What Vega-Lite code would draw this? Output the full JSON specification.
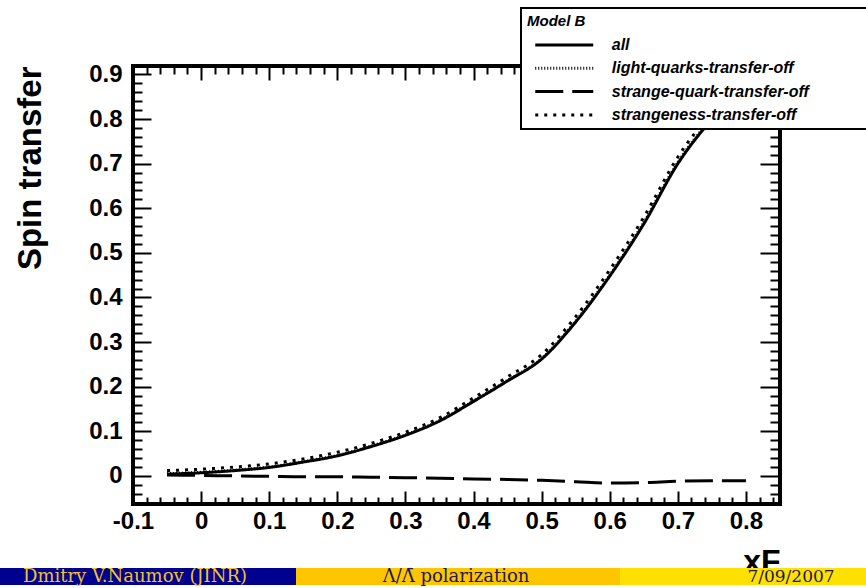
{
  "$schema": "https://vega.github.io/schema/vega-lite/v6.json",
  "padding": {"left": 0, "top": 7, "right": 0, "bottom": 0},
  "columns": 1,
  "align": "none",
  "spacing": -12,
  "config": {
    "view": {"stroke": "black", "strokeWidth": 4},
    "font": "Liberation Sans",
    "legend": {"strokeWidth": 2}
  },
  "concat": [
    {
      "spacing": 0,
      "hconcat": [
        {
          "width": 12, "height": 438,
          "view": {"stroke": null},
          "data": {"values": [{"label": ""}]},
          "mark": {"type": "text"},
          "encoding": {"text": {"field": "label"}}
        },
        {
          "width": 647,
          "height": 438,
          "data": {"values": [
            {"x": -0.05, "y": 0.004, "curve": "all"},
            {"x": 0.0, "y": 0.007, "curve": "all"},
            {"x": 0.05, "y": 0.012, "curve": "all"},
            {"x": 0.1, "y": 0.019, "curve": "all"},
            {"x": 0.15, "y": 0.031, "curve": "all"},
            {"x": 0.2, "y": 0.045, "curve": "all"},
            {"x": 0.25, "y": 0.066, "curve": "all"},
            {"x": 0.3, "y": 0.091, "curve": "all"},
            {"x": 0.35, "y": 0.123, "curve": "all"},
            {"x": 0.4, "y": 0.167, "curve": "all"},
            {"x": 0.45, "y": 0.213, "curve": "all"},
            {"x": 0.5, "y": 0.262, "curve": "all"},
            {"x": 0.55, "y": 0.345, "curve": "all"},
            {"x": 0.6, "y": 0.448, "curve": "all"},
            {"x": 0.65, "y": 0.565, "curve": "all"},
            {"x": 0.7, "y": 0.7, "curve": "all"},
            {"x": 0.75, "y": 0.8, "curve": "all"},
            {"x": 0.8, "y": 0.88, "curve": "all"},
            {"x": -0.05, "y": 0.005, "curve": "light-quarks-transfer-off"},
            {"x": 0.0, "y": 0.008, "curve": "light-quarks-transfer-off"},
            {"x": 0.05, "y": 0.013, "curve": "light-quarks-transfer-off"},
            {"x": 0.1, "y": 0.02, "curve": "light-quarks-transfer-off"},
            {"x": 0.15, "y": 0.032, "curve": "light-quarks-transfer-off"},
            {"x": 0.2, "y": 0.046, "curve": "light-quarks-transfer-off"},
            {"x": 0.25, "y": 0.067, "curve": "light-quarks-transfer-off"},
            {"x": 0.3, "y": 0.092, "curve": "light-quarks-transfer-off"},
            {"x": 0.35, "y": 0.124, "curve": "light-quarks-transfer-off"},
            {"x": 0.4, "y": 0.168, "curve": "light-quarks-transfer-off"},
            {"x": 0.45, "y": 0.214, "curve": "light-quarks-transfer-off"},
            {"x": 0.5, "y": 0.263, "curve": "light-quarks-transfer-off"},
            {"x": 0.55, "y": 0.347, "curve": "light-quarks-transfer-off"},
            {"x": 0.6, "y": 0.45, "curve": "light-quarks-transfer-off"},
            {"x": 0.65, "y": 0.568, "curve": "light-quarks-transfer-off"},
            {"x": 0.7, "y": 0.703, "curve": "light-quarks-transfer-off"},
            {"x": 0.75, "y": 0.803, "curve": "light-quarks-transfer-off"},
            {"x": 0.8, "y": 0.883, "curve": "light-quarks-transfer-off"},
            {"x": -0.05, "y": 0.002, "curve": "strange-quark-transfer-off"},
            {"x": 0.0, "y": 0.001, "curve": "strange-quark-transfer-off"},
            {"x": 0.05, "y": 0.0, "curve": "strange-quark-transfer-off"},
            {"x": 0.1, "y": -0.001, "curve": "strange-quark-transfer-off"},
            {"x": 0.15, "y": -0.002, "curve": "strange-quark-transfer-off"},
            {"x": 0.2, "y": -0.002, "curve": "strange-quark-transfer-off"},
            {"x": 0.25, "y": -0.003, "curve": "strange-quark-transfer-off"},
            {"x": 0.3, "y": -0.004, "curve": "strange-quark-transfer-off"},
            {"x": 0.35, "y": -0.005, "curve": "strange-quark-transfer-off"},
            {"x": 0.4, "y": -0.007, "curve": "strange-quark-transfer-off"},
            {"x": 0.45, "y": -0.008, "curve": "strange-quark-transfer-off"},
            {"x": 0.5, "y": -0.01, "curve": "strange-quark-transfer-off"},
            {"x": 0.55, "y": -0.013, "curve": "strange-quark-transfer-off"},
            {"x": 0.6, "y": -0.016, "curve": "strange-quark-transfer-off"},
            {"x": 0.65, "y": -0.015, "curve": "strange-quark-transfer-off"},
            {"x": 0.7, "y": -0.012, "curve": "strange-quark-transfer-off"},
            {"x": 0.75, "y": -0.011, "curve": "strange-quark-transfer-off"},
            {"x": 0.8, "y": -0.011, "curve": "strange-quark-transfer-off"},
            {"x": -0.05, "y": 0.012, "curve": "strangeness-transfer-off"},
            {"x": 0.0, "y": 0.015, "curve": "strangeness-transfer-off"},
            {"x": 0.05, "y": 0.02, "curve": "strangeness-transfer-off"},
            {"x": 0.1, "y": 0.027, "curve": "strangeness-transfer-off"},
            {"x": 0.15, "y": 0.038, "curve": "strangeness-transfer-off"},
            {"x": 0.2, "y": 0.053, "curve": "strangeness-transfer-off"},
            {"x": 0.25, "y": 0.073, "curve": "strangeness-transfer-off"},
            {"x": 0.3, "y": 0.098, "curve": "strangeness-transfer-off"},
            {"x": 0.35, "y": 0.13, "curve": "strangeness-transfer-off"},
            {"x": 0.4, "y": 0.175, "curve": "strangeness-transfer-off"},
            {"x": 0.45, "y": 0.222, "curve": "strangeness-transfer-off"},
            {"x": 0.5, "y": 0.272, "curve": "strangeness-transfer-off"},
            {"x": 0.55, "y": 0.357, "curve": "strangeness-transfer-off"},
            {"x": 0.6, "y": 0.462, "curve": "strangeness-transfer-off"},
            {"x": 0.65, "y": 0.58, "curve": "strangeness-transfer-off"},
            {"x": 0.7, "y": 0.715, "curve": "strangeness-transfer-off"},
            {"x": 0.75, "y": 0.815, "curve": "strangeness-transfer-off"},
            {"x": 0.8, "y": 0.895, "curve": "strangeness-transfer-off"}
          ]},
          "layer": [
            {
              "mark": {"type": "line", "color": "black", "strokeWidth": 3, "clip": true, "interpolate": "monotone"},
              "encoding": {
                "x": {
                  "field": "x", "type": "quantitative",
                  "scale": {"domain": [-0.1, 0.85], "nice": false, "zero": false},
                  "axis": {
                    "orient": "bottom",
                    "values": [-0.1,-0.08,-0.06,-0.04,-0.02,0,0.02,0.04,0.06,0.08,0.1,0.12,0.14,0.16,0.18,0.2,0.22,0.24,0.26,0.28,0.3,0.32,0.34,0.36,0.38,0.4,0.42,0.44,0.46,0.48,0.5,0.52,0.54,0.56,0.58,0.6,0.62,0.64,0.66,0.68,0.7,0.72,0.74,0.76,0.78,0.8,0.82,0.84],
                    "domain": false, "grid": false,
                    "tickColor": "black", "tickWidth": 2,
                    "tickSize": {"condition": {"test": "abs(datum.value*10 - round(datum.value*10)) < 0.001", "value": -13}, "value": -7},
                    "labelExpr": "abs(datum.value*10 - round(datum.value*10)) < 0.001 ? ((datum.value < -0.0001 ? '-' : '') + format(abs(datum.value), '~g')) : ''",
                    "labelFont": "Liberation Sans", "labelFontWeight": "bold", "labelFontSize": 24, "labelColor": "black",
                    "labelPadding": 18, "labelFlush": false, "labelOverlap": false,
                    "title": "xF", "titleFont": "Liberation Sans", "titleFontWeight": "bold", "titleFontSize": 32,
                    "titleColor": "black", "titleAnchor": "end", "titlePadding": 7
                  }
                },
                "y": {
                  "field": "y", "type": "quantitative",
                  "scale": {"domain": [-0.063, 0.919], "nice": false, "zero": false},
                  "axis": {
                    "orient": "left",
                    "values": [-0.04,-0.02,0,0.02,0.04,0.06,0.08,0.1,0.12,0.14,0.16,0.18,0.2,0.22,0.24,0.26,0.28,0.3,0.32,0.34,0.36,0.38,0.4,0.42,0.44,0.46,0.48,0.5,0.52,0.54,0.56,0.58,0.6,0.62,0.64,0.66,0.68,0.7,0.72,0.74,0.76,0.78,0.8,0.82,0.84,0.86,0.88,0.9],
                    "domain": false, "grid": false,
                    "tickColor": "black", "tickWidth": 2,
                    "tickSize": {"condition": {"test": "abs(datum.value*10 - round(datum.value*10)) < 0.001", "value": -18}, "value": -9},
                    "labelExpr": "abs(datum.value*10 - round(datum.value*10)) < 0.001 ? format(datum.value, '~g') : ''",
                    "labelFont": "Liberation Sans", "labelFontWeight": "bold", "labelFontSize": 24, "labelColor": "black",
                    "labelPadding": 29, "labelFlush": false, "labelOverlap": false,
                    "title": "Spin transfer", "titleFont": "Liberation Sans", "titleFontWeight": "bold", "titleFontSize": 33,
                    "titleColor": "black", "titleAnchor": "end", "titlePadding": 41
                  }
                },
                "strokeDash": {
                  "field": "curve", "type": "nominal",
                  "scale": {
                    "domain": ["all", "light-quarks-transfer-off", "strange-quark-transfer-off", "strangeness-transfer-off"],
                    "range": [[1, 0], [1, 2], [28, 9], [3, 6]]
                  },
                  "legend": {
                    "orient": "none", "legendX": 521, "legendY": -58,
                    "title": "Model B",
                    "titleFont": "Liberation Sans", "titleFontStyle": "italic", "titleFontWeight": "bold", "titleFontSize": 15, "titleColor": "black",
                    "titlePadding": 7,
                    "labelFont": "Liberation Sans", "labelFontStyle": "italic", "labelFontWeight": "bold", "labelFontSize": 16, "labelColor": "black",
                    "labelLimit": 500, "labelOffset": 38.5,
                    "labelExpr": "datum.label + '\u00a0\u00a0\u00a0\u00a0\u00a0\u00a0\u00a0\u00a0\u00a0\u00a0\u00a0\u00a0\u200b'",
                    "symbolType": "M-4,0H4", "symbolSize": 210.25, "symbolOffset": 28.25, "symbolStrokeWidth": 3, "symbolStrokeColor": "black",
                    "strokeColor": "black", "fillColor": "white",
                    "padding": 6, "rowPadding": 6.3
                  }
                }
              }
            },
            {
              "mark": {"type": "point", "opacity": 0},
              "encoding": {
                "x": {
                  "field": "x", "type": "quantitative",
                  "axis": {
                    "orient": "top",
                    "values": [-0.1,-0.08,-0.06,-0.04,-0.02,0,0.02,0.04,0.06,0.08,0.1,0.12,0.14,0.16,0.18,0.2,0.22,0.24,0.26,0.28,0.3,0.32,0.34,0.36,0.38,0.4,0.42,0.44,0.46,0.48,0.5,0.52,0.54,0.56,0.58,0.6,0.62,0.64,0.66,0.68,0.7,0.72,0.74,0.76,0.78,0.8,0.82,0.84],
                    "domain": false, "grid": false, "labels": false, "title": null,
                    "tickColor": "black", "tickWidth": 2,
                    "tickSize": {"condition": {"test": "abs(datum.value*10 - round(datum.value*10)) < 0.001", "value": -14}, "value": -8}
                  }
                },
                "y": {
                  "field": "y", "type": "quantitative",
                  "axis": {
                    "orient": "right",
                    "values": [-0.04,-0.02,0,0.02,0.04,0.06,0.08,0.1,0.12,0.14,0.16,0.18,0.2,0.22,0.24,0.26,0.28,0.3,0.32,0.34,0.36,0.38,0.4,0.42,0.44,0.46,0.48,0.5,0.52,0.54,0.56,0.58,0.6,0.62,0.64,0.66,0.68,0.7,0.72,0.74,0.76,0.78,0.8,0.82,0.84,0.86,0.88,0.9],
                    "domain": false, "grid": false, "labels": false, "title": null,
                    "tickColor": "black", "tickWidth": 2,
                    "tickSize": {"condition": {"test": "abs(datum.value*10 - round(datum.value*10)) < 0.001", "value": -20}, "value": -10}
                  }
                }
              }
            }
          ],
          "resolve": {"axis": {"x": "independent", "y": "independent"}}
        }
      ]
    },
    {
      "spacing": 0,
      "hconcat": [
        {
          "width": 296, "height": 17,
          "view": {"fill": "#00008f", "stroke": null},
          "data": {"values": [{"label": "Dmitry V.Naumov  (JINR)"}]},
          "mark": {"type": "text", "font": "DejaVu Serif", "fontSize": 18, "color": "#f2c12e", "dx": -13, "baseline": "middle"},
          "encoding": {"text": {"field": "label"}}
        },
        {
          "width": 324, "height": 17,
          "view": {"fill": "#ffc600", "stroke": null},
          "data": {"values": [{"label": "Λ/Λ̄ polarization"}]},
          "mark": {"type": "text", "font": "DejaVu Serif", "fontSize": 18, "color": "#1a1a5e", "dx": -2, "baseline": "middle"},
          "encoding": {"text": {"field": "label"}}
        },
        {
          "width": 246, "height": 17,
          "view": {"fill": "#ffe000", "stroke": null},
          "data": {"values": [{"label": "7/09/2007"}]},
          "mark": {"type": "text", "font": "DejaVu Serif", "fontSize": 17, "color": "#1a1a5e", "dx": 48, "baseline": "middle"},
          "encoding": {"text": {"field": "label"}}
        }
      ]
    }
  ]
}
